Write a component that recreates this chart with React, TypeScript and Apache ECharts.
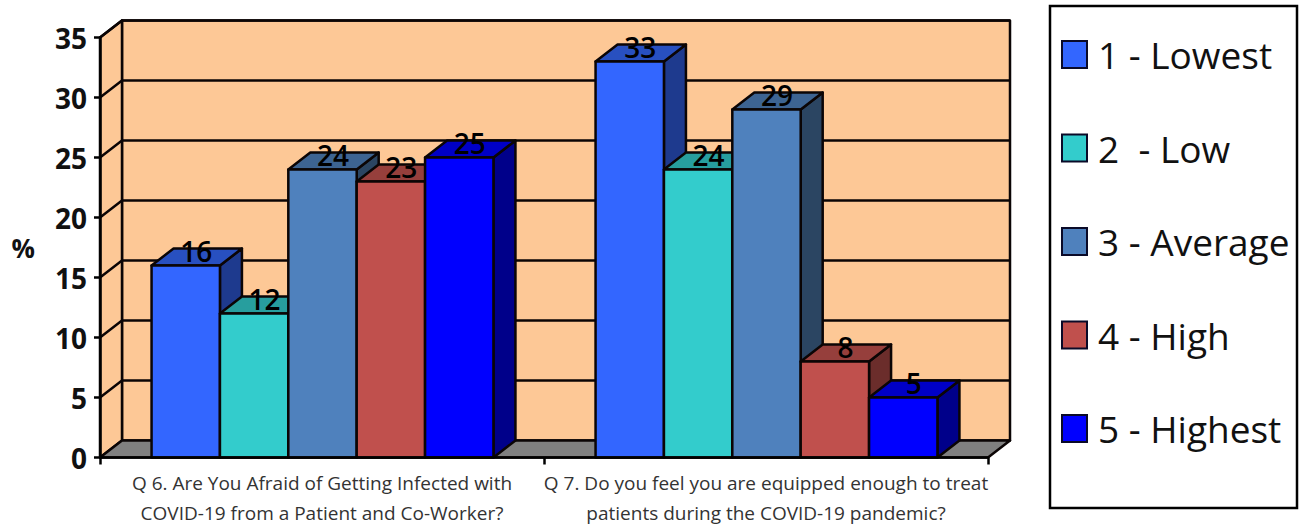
import React, { useEffect, useRef } from "react";
import * as echarts from "echarts";

const categories = [
  "Q 6. Are You Afraid of Getting Infected with\nCOVID-19 from a Patient and Co-Worker?",
  "Q 7. Do you feel you are equipped enough to treat\npatients during the COVID-19 pandemic?",
];
const ratingNames = ["1 - Lowest", "2  - Low", "3 - Average", "4 - High", "5 - Highest"];
const lowest = [16, 33];
const low = [12, 24];
const average = [24, 29];
const high = [23, 8];
const highest = [25, 5];
const ratingValues = [lowest, low, average, high, highest];
const yTicks = [0, 5, 10, 15, 20, 25, 30, 35];

const frontColors = ["#3366FF", "#33CCCC", "#4F81BD", "#C0504D", "#0000FF"];
const topColors = ["#2850C0", "#279E9E", "#3D6492", "#963F3C", "#0000C6"];
const sideColors = ["#1E3A8E", "#1C7272", "#2B4562", "#6B2D2B", "#00008A"];

const DEPTH_X = 22;
const DEPTH_Y = 17;
const BAR_SHARE = 0.154;
const LINE = "#0b0505";
const WALL = "#FDC896";
const FONT = "'Open Sans', 'Noto Sans', sans-serif";

function barBox(api: any, categoryIndex: number, seriesIndex: number, value: number) {
  const top = api.coord([categoryIndex, value]);
  const base = api.coord([categoryIndex, 0]);
  const band = api.size([1, 0])[0];
  const width = band * BAR_SHARE;
  const left = top[0] + (seriesIndex - 2.5) * width + 0.5;
  return { left, right: left + width, top: top[1], base: base[1], width };
}

function poly(points: number[][], fill: string | null, z2 = 0) {
  return {
    type: "polygon",
    z2,
    shape: { points },
    style: { fill: fill ?? "none", stroke: LINE, lineWidth: 2.5, lineJoin: "round" },
  };
}

// Floor, left wall and back wall, plus one wrapped gridline for each tick.
function renderFrame(params: any, api: any) {
  const value = api.value(0);
  const [x0, y] = api.coord([0, value]);
  const band = api.size([1, 0])[0];
  const xLeft = x0 - band / 2;
  const xRight = x0 + band * 1.5;
  const children: any[] = [];
  if (params.dataIndex === 0) {
    const yTop = api.coord([0, yTicks[yTicks.length - 1]])[1];
    children.push(
      poly(
        [
          [xLeft + DEPTH_X, yTop - DEPTH_Y],
          [xRight + DEPTH_X, yTop - DEPTH_Y],
          [xRight + DEPTH_X, y - DEPTH_Y],
          [xLeft + DEPTH_X, y - DEPTH_Y],
        ],
        WALL,
      ),
      poly(
        [
          [xLeft, y],
          [xLeft + DEPTH_X, y - DEPTH_Y],
          [xLeft + DEPTH_X, yTop - DEPTH_Y],
          [xLeft, yTop],
        ],
        WALL,
      ),
      poly(
        [
          [xLeft, y],
          [xRight, y],
          [xRight + DEPTH_X, y - DEPTH_Y],
          [xLeft + DEPTH_X, y - DEPTH_Y],
        ],
        "#808080",
      ),
    );
  } else {
    children.push({
      type: "polyline",
      z2: 1,
      shape: {
        points: [
          [xLeft, y],
          [xLeft + DEPTH_X, y - DEPTH_Y],
          [xRight + DEPTH_X, y - DEPTH_Y],
        ],
      },
      style: { fill: "none", stroke: LINE, lineWidth: 2.5 },
    });
  }
  return { type: "group", children };
}

// A bar with its front, top and right faces.
function renderBar(seriesIndex: number) {
  return (_params: any, api: any) => {
    const b = barBox(api, api.value(0), seriesIndex, api.value(1));
    return {
      type: "group",
      children: [
        poly(
          [
            [b.right, b.top],
            [b.right + DEPTH_X, b.top - DEPTH_Y],
            [b.right + DEPTH_X, b.base - DEPTH_Y],
            [b.right, b.base],
          ],
          sideColors[seriesIndex],
        ),
        poly(
          [
            [b.left, b.top],
            [b.left + DEPTH_X, b.top - DEPTH_Y],
            [b.right + DEPTH_X, b.top - DEPTH_Y],
            [b.right, b.top],
          ],
          topColors[seriesIndex],
        ),
        poly(
          [
            [b.left, b.top],
            [b.right, b.top],
            [b.right, b.base],
            [b.left, b.base],
          ],
          frontColors[seriesIndex],
        ),
      ],
    };
  };
}

// Value text sitting on the top face of each bar, above every bar body.
function renderValueLabel(seriesIndex: number) {
  return (_params: any, api: any) => {
    const value = api.value(1);
    const b = barBox(api, api.value(0), seriesIndex, value);
    return {
      type: "text",
      x: b.left + b.width / 2 + 10.5,
      y: b.top - 15,
      style: {
        text: String(value),
        font: `600 28px ${FONT}`,
        fill: "#000000",
        align: "center",
        verticalAlign: "middle",
      },
    };
  };
}

export default function App() {
  const ref = useRef<HTMLDivElement>(null);

  useEffect(() => {
    const chart = echarts.init(ref.current!, undefined, { renderer: "svg" });
    const barSeries = ratingNames.map((name, i) => ({
      type: "custom",
      name,
      z: 3 + i,
      renderItem: renderBar(i),
      encode: { x: 0, y: 1 },
      itemStyle: { color: frontColors[i] },
      data: ratingValues[i].map((v, c) => [c, v]),
    }));
    const labelSeries = ratingNames.map((_name, i) => ({
      type: "custom",
      name: `values ${i + 1}`,
      z: 10,
      renderItem: renderValueLabel(i),
      encode: { x: 0, y: 1 },
      data: ratingValues[i].map((v, c) => [c, v]),
    }));
    chart.setOption({
      animation: false,
      backgroundColor: "#ffffff",
      grid: { left: 100, right: 312, top: 37.5, bottom: 67.5, outerBoundsMode: "none" },
      graphic: [
        {
          type: "rect",
          z: 0,
          shape: { x: 1050, y: 6, width: 247, height: 502 },
          style: { fill: "#ffffff", stroke: "#000000", lineWidth: 2.5 },
        },
      ],
      legend: {
        orient: "vertical",
        left: 1061,
        top: 36,
        padding: 0,
        itemWidth: 25,
        itemHeight: 27,
        itemGap: 56.5,
        itemStyle: { borderColor: "#000000", borderWidth: 2 },
        textStyle: {
          fontFamily: FONT,
          fontSize: 37,
          color: "#111111",
          padding: [0, 0, 0, 6],
          lineHeight: 35,
        },
        data: ratingNames.map((name, i) => ({
          name,
          icon: "rect",
          itemStyle: { color: frontColors[i], borderColor: "#0a0a28", borderWidth: 2 },
        })),
      },
      xAxis: {
        type: "category",
        data: categories,
        boundaryGap: true,
        axisLine: { lineStyle: { color: "#000000", width: 2.5 } },
        axisTick: { show: true, interval: 0, length: 7, lineStyle: { color: "#000000", width: 2.5 } },
        axisLabel: {
          fontFamily: FONT,
          fontSize: 19,
          color: "#333333",
          lineHeight: 30,
          margin: 10,
          interval: 0,
        },
        z: 20,
      },
      yAxis: {
        type: "value",
        min: 0,
        max: 35,
        interval: 5,
        name: "%",
        nameLocation: "middle",
        nameRotate: 0,
        nameGap: 65,
        nameTextStyle: {
          fontFamily: FONT,
          fontSize: 26,
          fontWeight: 700,
          color: "#111111",
          padding: [7, 0, 0, 0],
        },
        splitLine: { show: false },
        axisLine: { show: true, lineStyle: { color: "#000000", width: 2.5 } },
        axisTick: { show: true, length: 6, lineStyle: { color: "#000000", width: 2.5 } },
        axisLabel: {
          fontFamily: FONT,
          fontSize: 28,
          fontWeight: 700,
          color: "#111111",
          margin: 13,
        },
        z: 20,
      },
      series: [
        {
          type: "custom",
          name: "frame",
          z: 1,
          renderItem: renderFrame,
          encode: { y: 0 },
          data: yTicks.map((t) => [t]),
        },
        ...barSeries,
        ...labelSeries,
      ],
    });
    return () => chart.dispose();
  }, []);

  return <div ref={ref} style={{ position: "absolute", left: 0, top: 0, width: 1300, height: 525 }} />;
}
